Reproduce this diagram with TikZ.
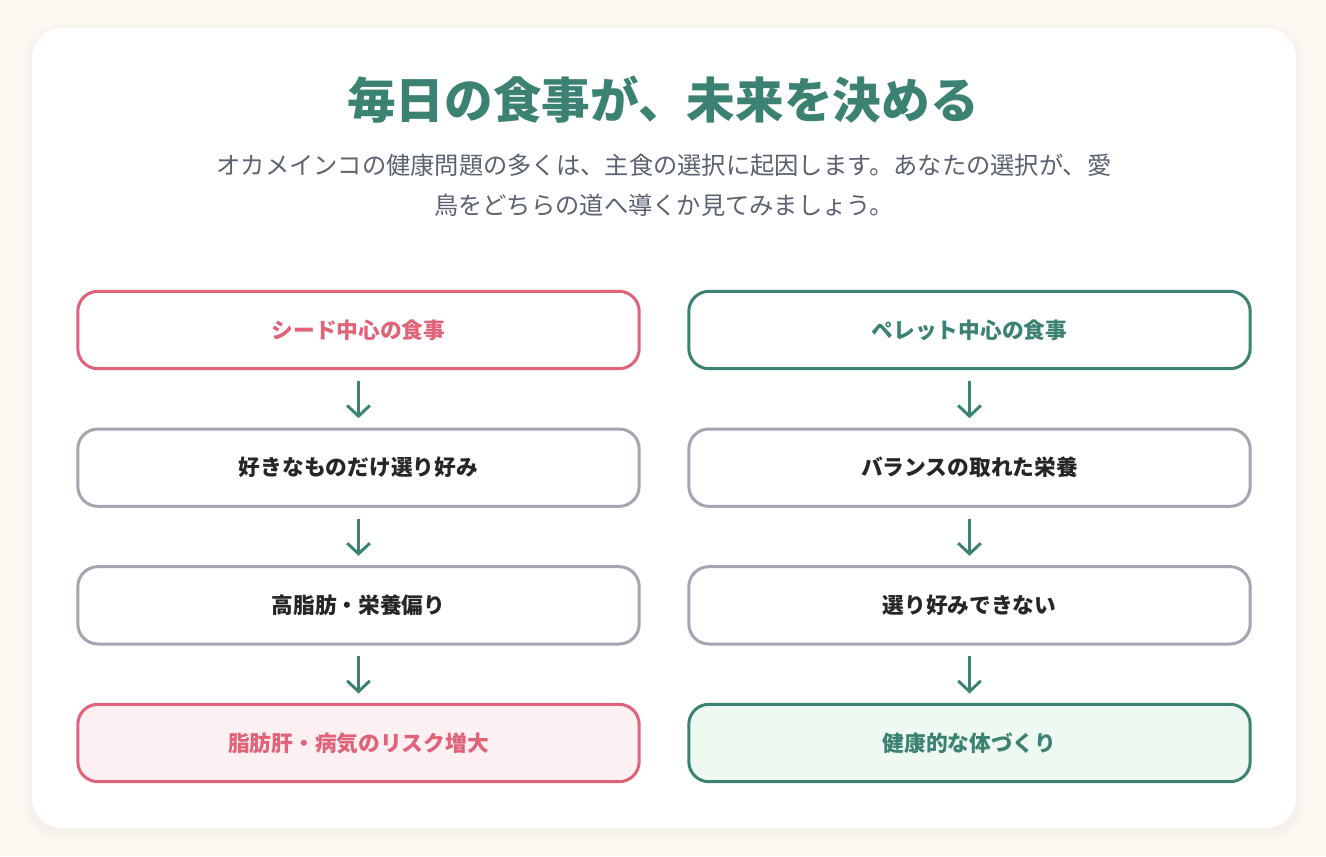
\documentclass[tikz,border=0pt]{standalone}
\usepackage{fontspec}
\setmainfont{Noto Sans CJK JP}
\usepackage{xcolor}
\usepackage{tikz}
\usetikzlibrary{positioning,arrows.meta}
\definecolor{pageBg}{HTML}{FDF9F2}
\definecolor{leafGreen}{HTML}{3B8272}
\definecolor{seedPink}{HTML}{E0637A}
\definecolor{stepGray}{HTML}{A2A6B0}
\definecolor{leadGray}{HTML}{5A6270}
\definecolor{pinkTint}{HTML}{FDF0F2}
\definecolor{greenTint}{HTML}{EEFAF1}
\tikzset{
  stepBox/.style={
    rectangle,
    rounded corners=15pt,
    draw=stepGray,
    line width=2.25pt,
    fill=white,
    minimum width=421pt,
    minimum height=58pt,
    align=center,
    font=\fontsize{16.3}{18}\selectfont\bfseries,
    text=black!85
  },
  seedBox/.style={
    stepBox,
    draw=seedPink,
    text=seedPink
  },
  pelletBox/.style={
    stepBox,
    draw=leafGreen,
    text=leafGreen
  },
  flowArrow/.style={
    -{Straight Barb[length=8pt,width=17pt]},
    line width=2.2pt,
    draw=leafGreen,
    shorten <=8pt,
    shorten >=7pt
  },
  titleText/.style={
    font=\fontsize{36.5}{40}\selectfont\bfseries,
    text=leafGreen
  },
  leadText/.style={
    font=\fontsize{18.2}{30}\selectfont,
    text=leadGray,
    align=center
  }
}
\begin{document}
\begin{tikzpicture}[x=0.75pt,y=-0.75pt]
  \useasboundingbox (0,0) rectangle (1326,856);
  \fill[pageBg] (0,0) rectangle (1326,856);
  % card with soft shadow
  \foreach \s in {1,...,8}
    \fill[black, opacity=0.005, rounded corners=24pt]
      (32-\s,30-\s) rectangle (1296+\s,832+\s);
  \fill[white, rounded corners=22pt] (32,28) rectangle (1296,828);

  \node[titleText] (title) at (663,100) {毎日の食事が、未来を決める};
  \node[leadText] (lead) at (664,185)
    {オカメインコの健康問題の多くは、主食の選択に起因します。あなたの選択が、愛\\
     鳥をどちらの道へ導くか見てみましょう。};

  % seed side
  \node[seedBox] (seed) at (358.5,330) {シード中心の食事};
  \node[stepBox, below=43pt of seed] (picky) {好きなものだけ選り好み};
  \node[stepBox, below=43pt of picky] (fatty) {高脂肪・栄養偏り};
  \node[seedBox, fill=pinkTint, below=43pt of fatty] (risk) {脂肪肝・病気のリスク増大};

  % pellet side
  \node[pelletBox] (pellet) at (969.5,330) {ペレット中心の食事};
  \node[stepBox, below=43pt of pellet] (balance) {バランスの取れた栄養};
  \node[stepBox, below=43pt of balance] (nopicky) {選り好みできない};
  \node[pelletBox, fill=greenTint, below=43pt of nopicky] (healthy) {健康的な体づくり};

  \draw[flowArrow] (seed) -- (picky);
  \draw[flowArrow] (picky) -- (fatty);
  \draw[flowArrow] (fatty) -- (risk);
  \draw[flowArrow] (pellet) -- (balance);
  \draw[flowArrow] (balance) -- (nopicky);
  \draw[flowArrow] (nopicky) -- (healthy);
\end{tikzpicture}
\end{document}
